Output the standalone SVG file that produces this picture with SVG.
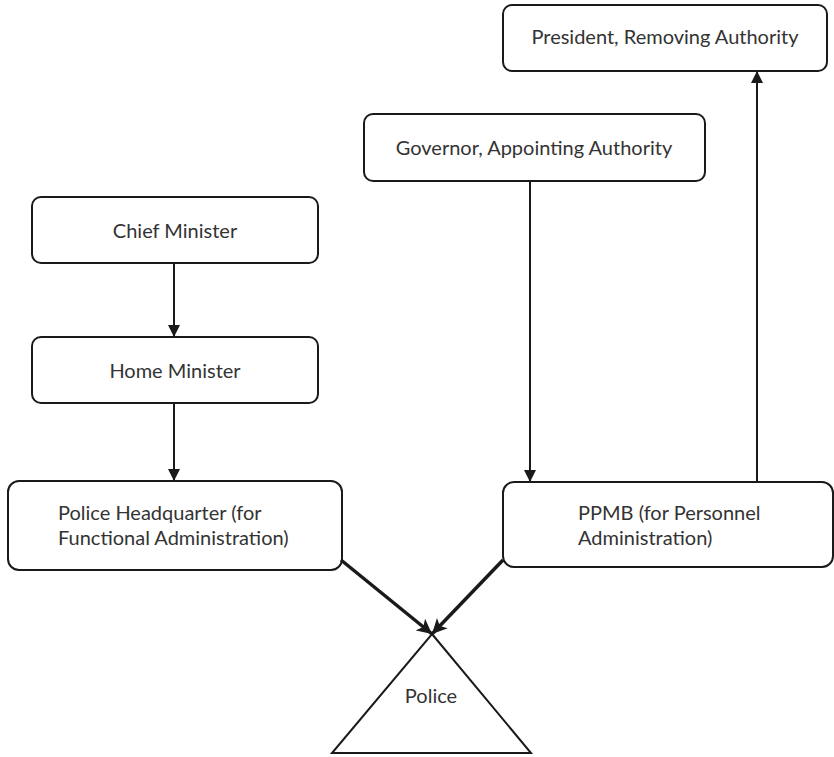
<svg xmlns="http://www.w3.org/2000/svg" width="834" height="757" viewBox="0 0 834 757">
<style>
.box{fill:#fff;stroke:#1a1a1a;stroke-width:2}
.t{font-family:Lato,"Liberation Sans",sans-serif;font-size:20px;fill:#333}
.c{text-anchor:middle}
.ln{stroke:#1a1a1a;stroke-width:2;fill:none}
.thick{stroke:#1a1a1a;stroke-width:3.5;fill:none}
</style>
<defs>
<marker id="ah" viewBox="0 0 12 12" refX="12" refY="6" markerWidth="12" markerHeight="12" markerUnits="userSpaceOnUse" orient="auto"><path d="M0,0 L12,6 L0,12 z" fill="#1a1a1a"/></marker>
<marker id="ah2" viewBox="0 0 10 10" refX="10" refY="5" markerWidth="15" markerHeight="15" markerUnits="userSpaceOnUse" orient="auto"><path d="M0,0 L10,5 L0,10 L2.5,5 z" fill="#1a1a1a"/></marker>
</defs>
<g id="president"><rect class="box" x="503" y="5" width="324" height="66" rx="9"/><text class="t c" x="665" y="44">President, Removing Authority</text></g>
<g id="governor"><rect class="box" x="364" y="114" width="341" height="67" rx="9"/><text class="t c" x="534" y="155">Governor, Appointing Authority</text></g>
<g id="chief"><rect class="box" x="32" y="197" width="286" height="66" rx="9"/><text class="t c" x="175" y="238">Chief Minister</text></g>
<g id="home"><rect class="box" x="32" y="337" width="286" height="66" rx="9"/><text class="t c" x="175" y="378">Home Minister</text></g>
<g id="hq"><rect class="box" x="8" y="481" width="334" height="89" rx="11"/><text class="t" x="58" y="520">Police Headquarter (for</text><text class="t" x="58" y="545">Functional Administration)</text></g>
<g id="ppmb"><rect class="box" x="503" y="482" width="330" height="85" rx="11"/><text class="t" x="578" y="520">PPMB (for Personnel</text><text class="t" x="578" y="545">Administration)</text></g>
<g id="police"><path class="ln" d="M432,634 L531,753 L332,753 Z"/><text class="t c" x="431" y="703">Police</text></g>
<g id="connectors">
<line class="ln" x1="174" y1="263" x2="174" y2="337" marker-end="url(#ah)"/>
<line class="ln" x1="174" y1="403" x2="174" y2="481" marker-end="url(#ah)"/>
<line class="ln" x1="530" y1="181" x2="530" y2="482" marker-end="url(#ah)"/>
<line class="ln" x1="757" y1="482" x2="757" y2="71" marker-end="url(#ah)"/>
<line class="thick" x1="341" y1="560" x2="432" y2="634" marker-end="url(#ah2)"/>
<line class="thick" x1="503" y1="560" x2="432" y2="634" marker-end="url(#ah2)"/>
</g>
</svg>
